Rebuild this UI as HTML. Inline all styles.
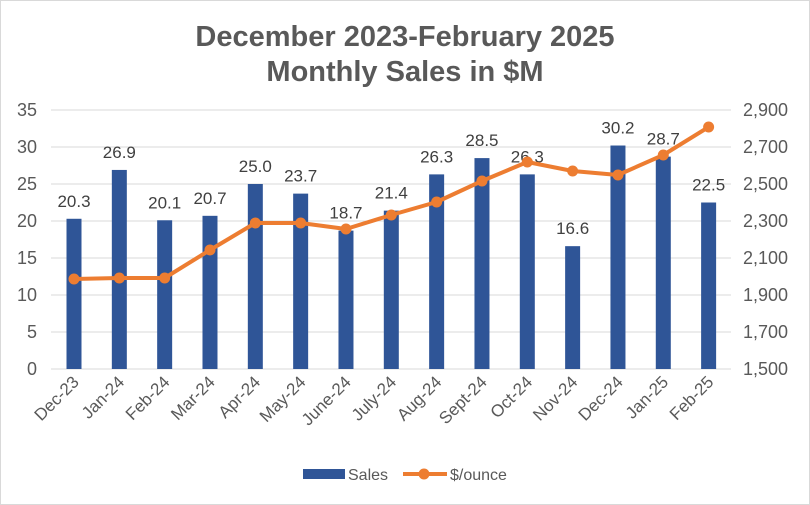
<!DOCTYPE html>
<html><head><style>
body{margin:0;background:#fff}
svg{display:block;font-family:"Liberation Sans",Arial,sans-serif}
</style></head><body>
<svg width="810" height="505" viewBox="0 0 810 505" xmlns="http://www.w3.org/2000/svg">
<rect x="0.5" y="0.5" width="809" height="504" fill="#fff" stroke="#d9d9d9"/>
<text x="405" y="46" text-anchor="middle" font-size="29" font-weight="bold" fill="#595959">December 2023-February 2025</text>
<text x="405" y="81" text-anchor="middle" font-size="29" font-weight="bold" fill="#595959">Monthly Sales in $M</text>
<g stroke="#d9d9d9" stroke-width="1">
<line x1="51" x2="731" y1="110" y2="110"/><line x1="51" x2="731" y1="147" y2="147"/>
<line x1="51" x2="731" y1="184" y2="184"/><line x1="51" x2="731" y1="221" y2="221"/>
<line x1="51" x2="731" y1="258" y2="258"/><line x1="51" x2="731" y1="295" y2="295"/>
<line x1="51" x2="731" y1="332" y2="332"/><line x1="51" x2="731" y1="369" y2="369"/>
</g>
<g font-size="18" fill="#595959" text-anchor="end">
<text x="37" y="116">35</text><text x="37" y="153">30</text><text x="37" y="190">25</text><text x="37" y="227">20</text>
<text x="37" y="264">15</text><text x="37" y="301">10</text><text x="37" y="338">5</text><text x="37" y="375">0</text>
</g>
<g font-size="18" fill="#595959">
<text x="743" y="116">2,900</text><text x="743" y="153">2,700</text><text x="743" y="190">2,500</text><text x="743" y="227">2,300</text>
<text x="743" y="264">2,100</text><text x="743" y="301">1,900</text><text x="743" y="338">1,700</text><text x="743" y="375">1,500</text>
</g>
<g fill="#2f5597" id="bars"></g>
<g font-size="17" fill="#404040" text-anchor="middle" id="lbls"></g>
<polyline id="ln" fill="none" stroke="#ed7d31" stroke-width="4" stroke-linejoin="round"/>
<g fill="#ed7d31" id="dots"></g>
<g font-size="17" fill="#595959" text-anchor="end" id="xl"></g>
<rect x="303" y="469" width="42" height="10" fill="#2f5597"/>
<text x="348" y="480" font-size="16" fill="#595959">Sales</text>
<line x1="403" x2="447" y1="474" y2="474" stroke="#ed7d31" stroke-width="4"/>
<circle cx="424" cy="474" r="5.5" fill="#ed7d31"/>
<text x="450" y="480" font-size="16" fill="#595959">$/ounce</text>
</svg>
<script>
var v=[20.3,26.9,20.1,20.7,25.0,23.7,18.7,21.4,26.3,28.5,26.3,16.6,30.2,28.7,22.5];
var ly=[279,278,278,250,223,223,229,215,202,181,162,171,175,155,127];
var n=["Dec-23","Jan-24","Feb-24","Mar-24","Apr-24","May-24","June-24","July-24","Aug-24","Sept-24","Oct-24","Nov-24","Dec-24","Jan-25","Feb-25"];
var NS="http://www.w3.org/2000/svg",pts=[];
function el(t,a,p,txt){var e=document.createElementNS(NS,t);for(var k in a)e.setAttribute(k,a[k]);if(txt)e.textContent=txt;document.getElementById(p).appendChild(e);}
for(var i=0;i<15;i++){var c=74+45.33*i,y=369-v[i]*7.4;
el("rect",{x:c-7.5,y:y,width:15,height:369-y},"bars");
el("text",{x:c,y:y-12},"lbls",v[i].toFixed(1));
pts.push(c+","+ly[i]);el("circle",{cx:c,cy:ly[i],r:5.5},"dots");
el("text",{x:c+6,y:383,transform:"rotate(-45 "+(c+6)+" 383)"},"xl",n[i]);}
document.getElementById("ln").setAttribute("points",pts.join(" "));
</script>
</body></html>
